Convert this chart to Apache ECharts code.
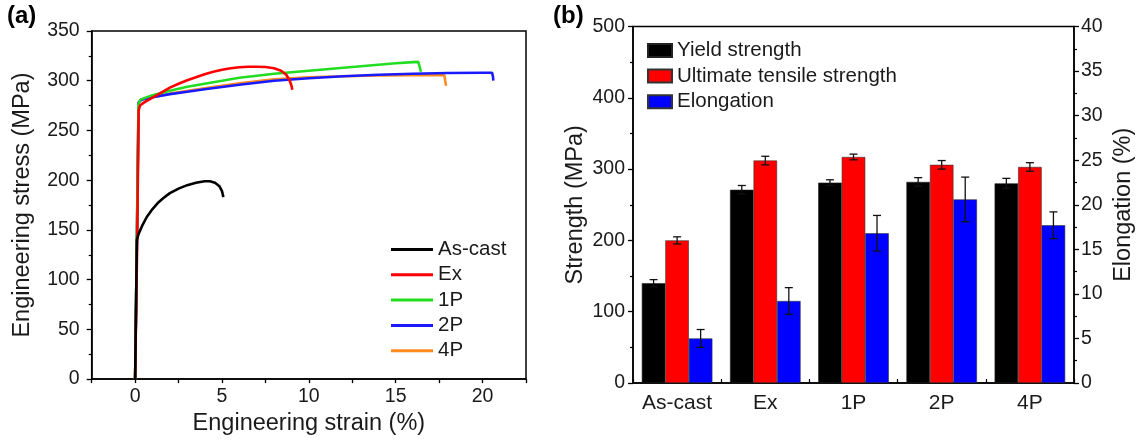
<!DOCTYPE html>
<html>
<head>
<meta charset="utf-8">
<script src="https://cdn.jsdelivr.net/npm/echarts@6/dist/echarts.min.js"></script>
<style>
  html, body { margin: 0; padding: 0; background: #fff; }
  #chart { width: 1148px; height: 441px; }
</style>
</head>
<body>
<div id="chart"></div>
<script>
// ---------- (a) engineering stress–strain curves ----------
const asCastStrain = [0, 0.05, 0.1, 0.2, 0.4, 0.67, 1.0, 1.3, 1.63, 2.0, 2.5, 3.0, 3.5, 4.0, 4.3, 4.6, 4.85, 5.0, 5.08];
const asCastStress = [0, 70, 140, 146, 154, 163, 171, 177, 182, 187, 191.5, 195, 197.5, 199, 199, 197.5, 194, 189, 183];

const exStrain = [0, 0.12, 0.2, 0.28, 0.5, 1.0, 1.5, 2.0, 2.5, 3.0, 3.5, 4.0, 4.5, 5.0, 5.5, 6.0, 6.5, 7.0, 7.5, 8.0, 8.4, 8.7, 8.9, 9.0, 9.05];
const exStress = [0, 140, 270, 275, 278, 283, 288, 293, 297, 300.5, 303.5, 306.5, 309, 311, 312.5, 313.5, 314, 314, 313.8, 312.5, 310, 306, 300, 295, 291];

const p1Strain = [0, 0.19, 0.3, 0.6, 1.0, 2.0, 3.0, 4.0, 6.0, 8.0, 10.0, 12.0, 14.0, 15.0, 16.0, 16.3, 16.38, 16.45];
const p1Stress = [0, 276, 281, 283, 285.5, 290, 294, 297, 303, 307, 310, 313, 316, 317.5, 318.7, 319, 314, 309];

const p2Strain = [0, 0.2, 0.35, 1.0, 2.0, 3.0, 4.0, 6.0, 8.0, 10.0, 12.0, 14.0, 16.0, 18.0, 20.0, 20.55, 20.6, 20.62];
const p2Stress = [0, 278, 281, 283.5, 286.5, 289, 291.5, 296, 300, 302.5, 304.5, 306, 307, 307.8, 308, 308, 304, 300];

const p4Strain = [0, 0.2, 0.35, 1.0, 2.0, 4.0, 6.0, 8.0, 10.0, 12.0, 14.0, 16.0, 17.8, 17.85, 17.9];
const p4Stress = [0, 278, 281, 283.5, 287, 292.5, 297.5, 301.5, 303.5, 304.5, 305.2, 305.5, 305.5, 300, 295];

const curveNames = ['As-cast', 'Ex', '1P', '2P', '4P'];
const curveColors = ['#000000', '#ff0000', '#22dd22', '#1a1aff', '#ff8a1e'];

// ---------- (b) strength and elongation ----------
const samples = ['As-cast', 'Ex', '1P', '2P', '4P'];
const yieldStrength = [140, 271, 281, 282, 280];
const yieldErr = [5, 6, 4, 6, 7];
const tensileStrength = [200, 312, 317, 306, 303];
const tensileErr = [5, 6, 4, 6, 6];
const elongation = [5.0, 9.2, 16.8, 20.6, 17.7];
const elongationErr = [1.0, 1.5, 2.0, 2.5, 1.5];

const strainTicks = [0, 5, 10, 15, 20];

const FONT = '"Liberation Sans", Arial, sans-serif';
const TEXT = '#1a1a1a';
const CAT_GAP = 0.2;

function pairs(xs, ys) { return xs.map((x, i) => [x, ys[i]]); }

const curves = {
  'As-cast': pairs(asCastStrain, asCastStress),
  'Ex': pairs(exStrain, exStress),
  '1P': pairs(p1Strain, p1Stress),
  '2P': pairs(p2Strain, p2Stress),
  '4P': pairs(p4Strain, p4Stress)
};

// draw order: later series sit on top
const drawOrder = ['4P', '2P', '1P', 'Ex', 'As-cast'];
const lineSeries = drawOrder.map(name => ({
  name: name,
  type: 'line',
  xAxisIndex: 0,
  yAxisIndex: 0,
  data: curves[name],
  showSymbol: false,
  symbol: 'none',
  lineStyle: { width: 2.6, color: curveColors[curveNames.indexOf(name)] },
  itemStyle: { color: curveColors[curveNames.indexOf(name)] },
  animation: false
}));

// error bars, placed over the bar of the given slot (0,1,2) in each group
function errorBars(slot, yAxisIndex, means, errs) {
  return {
    type: 'custom',
    xAxisIndex: 1,
    yAxisIndex: yAxisIndex,
    data: means.map((m, i) => [i, m, errs[i]]),
    silent: true,
    z: 10,
    animation: false,
    renderItem: function (params, api) {
      const i = api.value(0), m = api.value(1), e = api.value(2);
      const band = api.size([1, 0])[0];
      const barW = band * (1 - CAT_GAP) / 3;
      const dx = (slot - 1) * barW;
      const hi = api.coord([i, m + e]);
      const lo = api.coord([i, m - e]);
      const x = hi[0] + dx;
      const cap = 4;
      const style = { stroke: '#111', lineWidth: 1.3 };
      return {
        type: 'group',
        children: [
          { type: 'line', shape: { x1: x, y1: hi[1], x2: x, y2: lo[1] }, style: style },
          { type: 'line', shape: { x1: x - cap, y1: hi[1], x2: x + cap, y2: hi[1] }, style: style },
          { type: 'line', shape: { x1: x - cap, y1: lo[1], x2: x + cap, y2: lo[1] }, style: style }
        ]
      };
    }
  };
}

const axisLine = { show: true, onZero: false, lineStyle: { color: '#000', width: 1.5 } };
const labelStyle = { color: TEXT, fontFamily: FONT, fontSize: 19.5 };
const nameStyle = { color: TEXT, fontFamily: FONT, fontSize: 23.5 };

const option = {
  animation: false,
  backgroundColor: '#fff',
  textStyle: { fontFamily: FONT },
  graphic: [
    { type: 'text', left: 7, top: 4, style: { text: '(a)', font: 'bold 24px ' + FONT, fill: '#000' } },
    { type: 'text', left: 553, top: 4, style: { text: '(b)', font: 'bold 24px ' + FONT, fill: '#000' } }
  ],
  grid: [
    { left: 91.7, top: 31, width: 434.3, height: 351, show: true, borderColor: '#000', borderWidth: 1.5, backgroundColor: 'transparent' },
    { left: 633, top: 26.5, width: 441, height: 356.5, show: true, borderColor: '#000', borderWidth: 1.5, backgroundColor: 'transparent' }
  ],
  legend: [
    {
      data: curveNames,
      orient: 'vertical',
      left: 391,
      top: 239,
      padding: 0,
      icon: 'rect',
      itemWidth: 42,
      itemHeight: 3,
      itemGap: 4.3,
      textStyle: { color: TEXT, fontFamily: FONT, fontSize: 20.5, lineHeight: 20 }
    },
    {
      data: ['Yield strength', 'Ultimate tensile strength', 'Elongation'],
      orient: 'vertical',
      left: 647,
      top: 40,
      padding: 0,
      icon: 'rect',
      itemWidth: 24,
      itemHeight: 13,
      itemGap: 4.6,
      textStyle: { color: TEXT, fontFamily: FONT, fontSize: 20.5, lineHeight: 20 }
    }
  ],
  xAxis: [
    {
      type: 'value',
      gridIndex: 0,
      min: -2.5,
      max: 22.5,
      interval: 2.5,
      name: 'Engineering strain (%)',
      nameLocation: 'middle',
      nameGap: 31,
      nameTextStyle: nameStyle,
      axisLine: axisLine,
      axisTick: { show: true, inside: false, length: 4, lineStyle: { color: '#000', width: 1.3 } },
      axisLabel: Object.assign({}, labelStyle, {
        margin: 8,
        formatter: v => (strainTicks.indexOf(v) >= 0 ? String(v) : '')
      }),
      splitLine: { show: false }
    },
    {
      type: 'category',
      gridIndex: 1,
      data: samples,
      axisLine: axisLine,
      axisTick: { show: false },
      axisLabel: Object.assign({}, labelStyle, { fontSize: 21, margin: 10, interval: 0 }),
      splitLine: { show: false }
    },
    {
      // tick marks at group centres and boundaries
      type: 'value',
      gridIndex: 1,
      min: 0,
      max: 10,
      interval: 1,
      position: 'bottom',
      axisLine: { show: false, onZero: false },
      axisTick: { show: true, inside: true, length: 4, lineStyle: { color: '#000', width: 1.2 } },
      axisLabel: { show: false },
      splitLine: { show: false }
    }
  ],
  yAxis: [
    {
      type: 'value',
      gridIndex: 0,
      min: 0,
      max: 350,
      interval: 50,
      name: 'Engineering stress (MPa)',
      nameLocation: 'middle',
      nameRotate: 90,
      nameGap: 57,
      nameTextStyle: nameStyle,
      axisLine: axisLine,
      axisTick: { show: true, inside: false, length: 5, lineStyle: { color: '#000', width: 1.3 } },
      minorTick: { show: true, splitNumber: 2, length: 3, lineStyle: { color: '#000', width: 1.2 } },
      axisLabel: Object.assign({}, labelStyle, { margin: 12 }),
      splitLine: { show: false }
    },
    {
      type: 'value',
      gridIndex: 1,
      min: 0,
      max: 500,
      interval: 100,
      name: 'Strength (MPa)',
      nameLocation: 'middle',
      nameRotate: 90,
      nameGap: 45,
      nameTextStyle: nameStyle,
      axisLine: axisLine,
      axisTick: { show: true, inside: false, length: 5, lineStyle: { color: '#000', width: 1.3 } },
      minorTick: { show: true, splitNumber: 2, length: 3, lineStyle: { color: '#000', width: 1.2 } },
      axisLabel: Object.assign({}, labelStyle, { margin: 8 }),
      splitLine: { show: false }
    },
    {
      type: 'value',
      gridIndex: 1,
      position: 'right',
      min: 0,
      max: 40,
      interval: 5,
      name: 'Elongation (%)',
      nameLocation: 'middle',
      nameRotate: 90,
      nameGap: 38,
      nameTextStyle: nameStyle,
      axisLine: axisLine,
      axisTick: { show: true, inside: false, length: 5, lineStyle: { color: '#000', width: 1.3 } },
      minorTick: { show: true, splitNumber: 2, length: 3, lineStyle: { color: '#000', width: 1.2 } },
      axisLabel: Object.assign({}, labelStyle, { margin: 7 }),
      splitLine: { show: false }
    }
  ],
  series: lineSeries.concat([
    {
      name: 'Yield strength',
      type: 'bar',
      xAxisIndex: 1,
      yAxisIndex: 1,
      data: yieldStrength,
      barGap: '0%',
      barCategoryGap: (CAT_GAP * 100) + '%',
      itemStyle: { color: '#000000', borderColor: '#222', borderWidth: 0.6 }
    },
    {
      name: 'Ultimate tensile strength',
      type: 'bar',
      xAxisIndex: 1,
      yAxisIndex: 1,
      data: tensileStrength,
      barGap: '0%',
      barCategoryGap: (CAT_GAP * 100) + '%',
      itemStyle: { color: '#ff0000', borderColor: '#333', borderWidth: 0.6 }
    },
    {
      name: 'Elongation',
      type: 'bar',
      xAxisIndex: 1,
      yAxisIndex: 2,
      data: elongation,
      barGap: '0%',
      barCategoryGap: (CAT_GAP * 100) + '%',
      itemStyle: { color: '#0000ff', borderColor: '#333', borderWidth: 0.6 }
    },
    errorBars(0, 1, yieldStrength, yieldErr),
    errorBars(1, 1, tensileStrength, tensileErr),
    errorBars(2, 2, elongation, elongationErr)
  ])
};

const chart = echarts.init(document.getElementById('chart'), null, { renderer: 'canvas' });
chart.setOption(option);
</script>
</body>
</html>
